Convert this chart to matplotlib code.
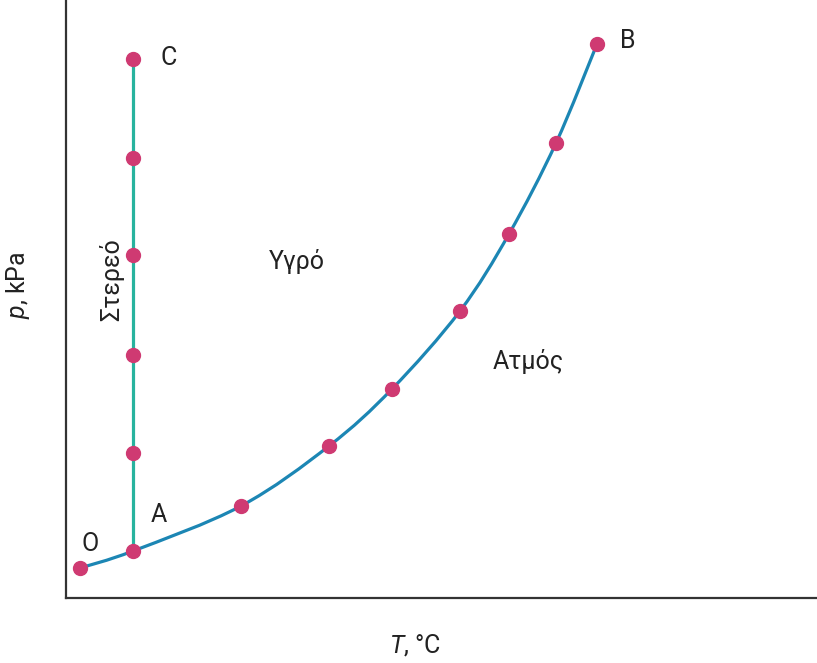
import numpy as np
import matplotlib.pyplot as plt
from matplotlib.path import Path
from matplotlib.patches import PathPatch

plt.rcParams['font.family'] = ['Roboto', 'DejaVu Sans']
plt.rcParams['mathtext.fontset'] = 'custom'
plt.rcParams['mathtext.rm'] = 'Roboto'
plt.rcParams['mathtext.it'] = 'Roboto:italic'

# vapour pressure curve O -> A -> B
curve_T = [14, 67, 175, 263, 326, 394, 443, 490, 531]
curve_p = [30, 47, 92, 152, 209, 287, 364, 455, 554]

# melting line A -> C
melt_T = [67, 67, 67, 67, 67, 67]
melt_p = [47, 145, 243, 343, 440, 539]

point_color = '#cf3a72'
curve_color = '#1c86b4'
melt_color = '#27b39e'


# smooth curve through the points (catmull-rom as cubic bezier)
def smooth_path(xs, ys):
    pts = np.column_stack([xs, ys]).astype(float)
    ext = np.vstack([pts[0], pts, pts[-1]])
    verts = [pts[0]]
    codes = [Path.MOVETO]
    for i in range(1, len(ext) - 2):
        p0, p1, p2, p3 = ext[i - 1], ext[i], ext[i + 1], ext[i + 2]
        verts += [p1 + (p2 - p0) / 6, p2 - (p3 - p1) / 6, p2]
        codes += [Path.CURVE4] * 3
    return Path(verts, codes)


fig = plt.figure(figsize=(8.17, 6.63), dpi=100)
ax = fig.add_axes([66 / 817, 65 / 663, 751 / 817, 598 / 663])

ax.plot(melt_T, melt_p, color=melt_color, lw=2.3, zorder=2)
ax.add_patch(PathPatch(smooth_path(curve_T, curve_p), fill=False,
                       edgecolor=curve_color, lw=2.3, zorder=2))
ax.plot(melt_T[1:], melt_p[1:], 'o', color=point_color, ms=10, zorder=3)
ax.plot(curve_T, curve_p, 'o', color=point_color, ms=10, zorder=3)

# point labels
txt = dict(fontsize=18, color='#222222', ha='center', va='center')
ax.text(103, 540, 'C', **txt)
ax.text(562, 557, 'B', **txt)
ax.text(93, 83, 'A', **txt)
ax.text(24, 54, 'O', **txt)

# phase regions
ax.text(231, 336, 'Υγρό', **txt)
ax.text(462, 236, 'Ατμός', **txt)
ax.text(46, 318, 'Στερεό', rotation=90, **txt)

ax.set_xlim(0, 751)
ax.set_ylim(0, 598)
ax.set_xticks([])
ax.set_yticks([])
for side in ['top', 'right']:
    ax.spines[side].set_visible(False)
for side in ['left', 'bottom']:
    ax.spines[side].set_linewidth(1.6)
    ax.spines[side].set_color('#333333')

ax.set_ylabel('$p$, kPa', fontsize=18, color='#222222', va='center')
ax.yaxis.set_label_coords(-0.064, 0.523)
ax.set_xlabel('$T$, °C', fontsize=18, color='#222222', va='center')
ax.xaxis.set_label_coords(0.465, -0.079)

fig.savefig('out.png', dpi=100)
